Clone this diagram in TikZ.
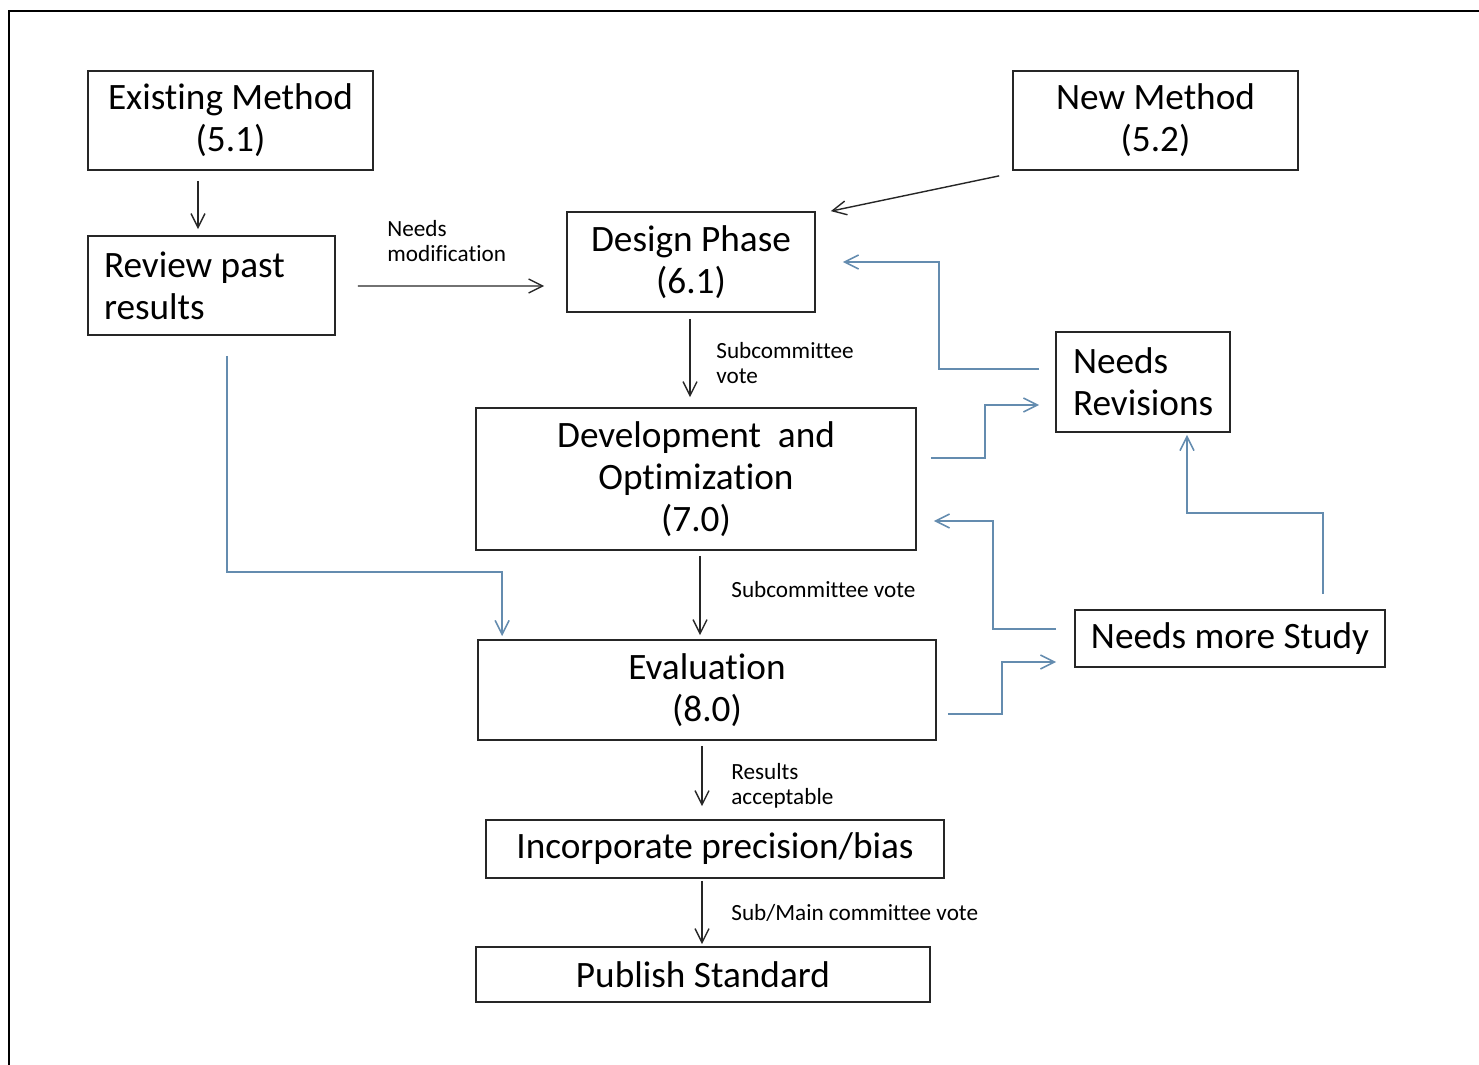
\documentclass[tikz,border=0pt]{standalone}
\usepackage{fontspec}
\setmainfont[Ligatures=NoCommon]{Carlito}
\usepackage{tikz}
\usetikzlibrary{arrows.meta}
\definecolor{flowblue}{RGB}{100,140,175}
\begin{document}
\begin{tikzpicture}[
    x=0.02cm, y=-0.02cm,
    box/.style={draw=black!85,line width=1pt,inner sep=0pt,align=center,font=\fontsize{21.2}{23.8}\selectfont},
    lbox/.style={box,align=flush left,inner ysep=0pt},
    lbl/.style={inner sep=0pt,align=flush left,anchor=west,font=\fontsize{13.2}{14.2}\selectfont},
    flow/.style={draw=black!85,line width=0.8pt,-{Straight Barb[length=2.8mm,width=2.8mm]}},
    back/.style={draw=flowblue,line width=0.9pt,-{Straight Barb[length=2.8mm,width=2.8mm]}}
    ]

    \useasboundingbox (0,0) rectangle (1479,1064);
    \draw[line width=1.4pt] (9,1070) |- (1490,11);

    \node[box,minimum width=5.7cm,minimum height=1.98cm] (exist) at (230.5,120.5) {Existing Method\\(5.1)};
    \node[box,minimum width=5.7cm,minimum height=1.98cm] (newm) at (1155.5,120.5) {New Method\\(5.2)};
    \node[lbox,inner xsep=0.32cm,text width=4.3cm,minimum height=1.98cm] (review) at (211.5,285.5) {Review past\\results};
    \node[box,minimum width=4.96cm,minimum height=2cm] (design) at (691,262) {Design Phase\\(6.1)};
    \node[lbox,inner xsep=0.34cm,text width=2.8cm,minimum height=2cm] (revis) at (1143,382) {Needs\\Revisions};
    \node[box,minimum width=8.8cm,minimum height=2.84cm] (devopt) at (696,479) {Development~ and\\Optimization\\(7.0)};
    \node[box,minimum width=6.2cm,minimum height=1.14cm] (study) at (1230,638.5) {Needs more Study};
    \node[box,minimum width=9.16cm,minimum height=2cm] (eval) at (707,690) {Evaluation\\(8.0)};
    \node[box,minimum width=9.16cm,minimum height=1.16cm] (incorp) at (715,849) {Incorporate precision/bias};
    \node[box,minimum width=9.08cm,minimum height=1.1cm] (publish) at (703,974.5) {Publish Standard};

    \node[lbl] (lmod) at (387,241.5) {Needs\\modification};
    \node[lbl] (lvote1) at (716,363.5) {Subcommittee\\vote};
    \node[lbl] (lvote2) at (731,590) {Subcommittee vote};
    \node[lbl] (lres) at (731,785.5) {Results\\acceptable};
    \node[lbl] (lmain) at (731,913) {Sub/Main committee vote};

    \path[flow] ([shift={(-32.5,10)}]exist.south) -- ([shift={(-13.5,-6)}]review.north);
    \path[flow] ([shift={(-13,5)}]newm.south west) -- ([shift={(15,0)}]design.north east);
    \path[flow] ([shift={(22,0.5)}]review.east) -- ([shift={(-22,24)}]design.west);
    \path[flow] ([shift={(-1,6)}]design.south) -- ([shift={(-6,-10)}]devopt.north);
    \path[flow] ([shift={(4,5)}]devopt.south) -- ([shift={(-7,-4)}]eval.north);
    \path[flow] ([shift={(-5,5)}]eval.south) -- ([shift={(-13,-13)}]incorp.north);
    \path[flow] ([shift={(-13,2)}]incorp.south) -- ([shift={(-1,-2)}]publish.north);

    \path[back] ([shift={(15.5,20)}]review.south) -- ++(0,216) -| ([shift={(25,-3)}]eval.north west);
    \path[back] ([shift={(-16,-13)}]revis.west) -- ++(-100,0) |- ([shift={(27,0)}]design.east);
    \path[back] ([shift={(14,-21)}]devopt.east) -- ++(54,0) |- ([shift={(-16,23)}]revis.west);
    \path[back] ([shift={(-18,-9.5)}]study.west) -- ++(-63,0) |- ([shift={(17,42)}]devopt.east);
    \path[back] ([shift={(93,-15)}]study.north) -- ++(0,-81) -| ([shift={(44,2)}]revis.south);
    \path[back] ([shift={(11,24)}]eval.east) -- ++(54,0) |- ([shift={(-18,23.5)}]study.west);

    \end{tikzpicture}
\end{document}
